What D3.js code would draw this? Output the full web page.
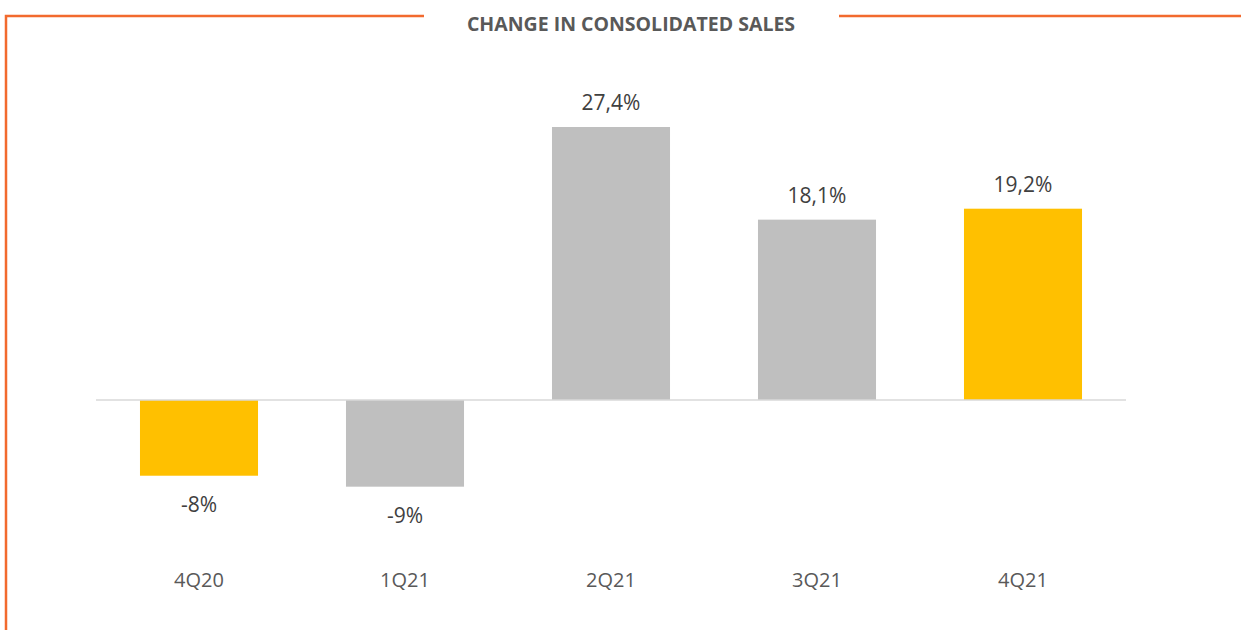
<!DOCTYPE html>
<html>
<head>
<meta charset="utf-8">
<script src="https://d3js.org/d3.v7.min.js"></script>
<style>
  body { margin: 0; background: #fff; }
  svg { display: block; font-family: "Open Sans", "Liberation Sans", sans-serif; }
</style>
</head>
<body>
<svg id="drawing_region"></svg>
<script>
const categories = ["4Q20", "1Q21", "2Q21", "3Q21", "4Q21"];
const values = [-7.6, -8.7, 27.4, 18.1, 19.2];
const valueLabels = ["-8%", "-9%", "27,4%", "18,1%", "19,2%"];
const highlight = ["4Q20", "4Q21"];

const width = 1241, height = 630;
const svg = d3.select("#drawing_region").attr("width", width).attr("height", height);

// frame
const orange = "#f26a2e";
svg.append("path")
  .attr("d", "M6,630 V16 H424")
  .attr("fill", "none").attr("stroke", orange).attr("stroke-width", 2.5);
svg.append("line")
  .attr("x1", 839).attr("x2", 1241).attr("y1", 16).attr("y2", 16)
  .attr("stroke", orange).attr("stroke-width", 2.5);

svg.append("text")
  .attr("x", 631).attr("y", 31)
  .attr("text-anchor", "middle")
  .attr("font-size", "19.5px").attr("font-weight", "bold")
  .attr("fill", "#595959")
  .text("CHANGE IN CONSOLIDATED SALES");

const x = d3.scaleBand().domain(categories).range([96, 1126]).paddingInner(0.427).paddingOuter(0.2135);
const y = d3.scaleLinear().domain([0, 27.4]).range([400, 127]);

const data = categories.map((c, i) => ({ c, v: values[i], label: valueLabels[i] }));

svg.selectAll("rect.bar")
  .data(data)
  .enter().append("rect")
  .attr("class", "bar")
  .attr("x", d => x(d.c))
  .attr("width", x.bandwidth())
  .attr("y", d => Math.min(y(d.v), y(0)))
  .attr("height", d => Math.abs(y(d.v) - y(0)))
  .attr("fill", d => highlight.includes(d.c) ? "#ffc000" : "#bfbfbf");

svg.append("line")
  .attr("x1", 96).attr("x2", 1126)
  .attr("y1", y(0)).attr("y2", y(0))
  .attr("stroke", "#d9d9d9").attr("stroke-width", 1.5);

svg.selectAll("text.val")
  .data(data)
  .enter().append("text")
  .attr("class", "val")
  .attr("x", d => x(d.c) + x.bandwidth() / 2)
  .attr("y", d => d.v >= 0 ? y(d.v) - 17 : y(d.v) + 36)
  .attr("text-anchor", "middle")
  .attr("font-size", "21px")
  .attr("fill", "#404040")
  .text(d => d.label);

svg.selectAll("text.cat")
  .data(categories)
  .enter().append("text")
  .attr("class", "cat")
  .attr("x", d => x(d) + x.bandwidth() / 2)
  .attr("y", 587)
  .attr("text-anchor", "middle")
  .attr("font-size", "20px")
  .attr("fill", "#595959")
  .text(d => d);
</script>
</body>
</html>
